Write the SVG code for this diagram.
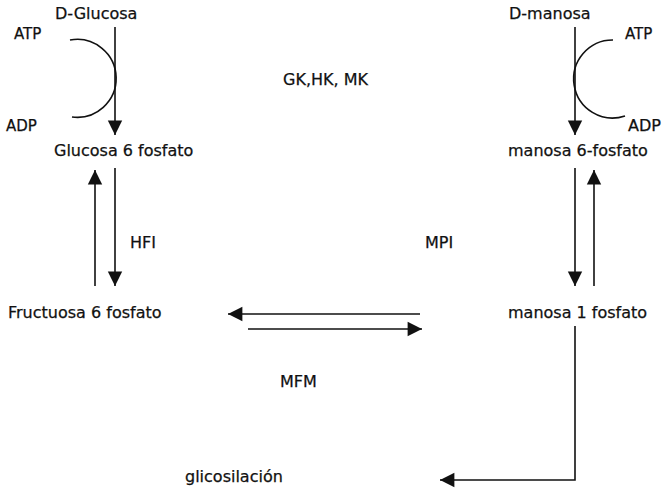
<svg xmlns="http://www.w3.org/2000/svg" width="663" height="491" viewBox="0 0 663 491">
  <style>
    .lbl { font-family: "DejaVu Sans", Verdana, sans-serif; font-size: 16px; fill: #111; stroke: #111; stroke-width: 0.25; }
    .sm { font-size: 15px; }
    .ln { stroke: #111; stroke-width: 1.6; fill: none; }
  </style>
  <defs>
    <marker id="ah" viewBox="0 0 10 10" refX="10" refY="5" markerWidth="9" markerHeight="9" markerUnits="userSpaceOnUse" orient="auto" overflow="visible">
      <path d="M0,0 L10,5 L0,10 Z" fill="#111" transform="scale(1.6)" transform-origin="10 5"/>
    </marker>
  </defs>
  <rect width="663" height="491" fill="#fff"/>

  <g id="n-dglucosa"><text class="lbl" x="55" y="19">D-Glucosa</text></g>
  <g id="n-atp-left"><text class="lbl sm" x="14" y="39">ATP</text></g>
  <g id="n-adp-left"><text class="lbl sm" x="6" y="131">ADP</text></g>
  <g id="n-g6p"><text class="lbl" x="54" y="156">Glucosa 6 fosfato</text></g>
  <g id="n-dmanosa"><text class="lbl" x="509" y="19">D-manosa</text></g>
  <g id="n-atp-right"><text class="lbl sm" x="625" y="39">ATP</text></g>
  <g id="n-adp-right"><text class="lbl sm" x="628" y="131" textLength="33" lengthAdjust="spacingAndGlyphs">ADP</text></g>
  <g id="n-m6p"><text class="lbl" x="508" y="156">manosa 6-fosfato</text></g>
  <g id="n-enz1"><text class="lbl" x="283" y="85">GK,HK, MK</text></g>
  <g id="n-hfi"><text class="lbl" x="130" y="248">HFI</text></g>
  <g id="n-mpi"><text class="lbl" x="425" y="248">MPI</text></g>
  <g id="n-f6p"><text class="lbl" x="8" y="318">Fructuosa 6 fosfato</text></g>
  <g id="n-m1p"><text class="lbl" x="508" y="318">manosa 1 fosfato</text></g>
  <g id="n-mfm"><text class="lbl" x="280" y="387">MFM</text></g>
  <g id="n-glic"><text class="lbl" x="185" y="482">glicosilación</text></g>

  <g id="connectors">
    <!-- hexokinase steps with ATP/ADP arcs -->
    <line class="ln" x1="115" y1="27" x2="115" y2="135" marker-end="url(#ah)"/>
    <path class="ln" d="M70,40 A39,39 0 1 1 72,117"/>
    <line class="ln" x1="575" y1="27" x2="575" y2="135" marker-end="url(#ah)"/>
    <path class="ln" d="M613,40 A39,39 0 1 0 625,116"/>
    <!-- G6P <-> F6P -->
    <line class="ln" x1="95" y1="286" x2="95" y2="170" marker-end="url(#ah)"/>
    <line class="ln" x1="115" y1="168" x2="115" y2="286" marker-end="url(#ah)"/>
    <!-- M6P <-> M1P -->
    <line class="ln" x1="575" y1="168" x2="575" y2="286" marker-end="url(#ah)"/>
    <line class="ln" x1="594" y1="286" x2="594" y2="170" marker-end="url(#ah)"/>
    <!-- F6P <-> M1P -->
    <line class="ln" x1="420" y1="314" x2="228" y2="314" marker-end="url(#ah)"/>
    <line class="ln" x1="248" y1="329" x2="422" y2="329" marker-end="url(#ah)"/>
    <!-- M1P -> glicosilación -->
    <polyline class="ln" points="575,326 575,480 440,480" marker-end="url(#ah)"/>
  </g>
</svg>
